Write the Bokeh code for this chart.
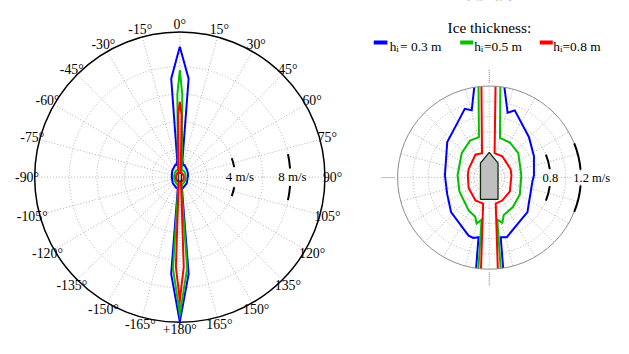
import numpy as np
from bokeh.plotting import figure
from bokeh.layouts import row
from bokeh.models import Range1d, Label
from bokeh.core.properties import value
from bokeh.embed import file_html
from bokeh.resources import INLINE

# ---- data: flow direction relative to the bow (deg, clockwise) and speed (m/s)
blue_dir = [0.0, 5.1, 8.7, 15.8, 20.8, 44.5, 64.4, 87.1, 95.1, 132.0, 163.6, 169.1, 174.8, 180.0,
            -174.9, -169.8, -165.1, -160.4, -132.0, -111.8, -87.0, -49.8, -29.3, -19.6, -14.6, -8.6, -5.0]
blue_speed = [9.43, 7.15, 1.26, 0.883, 0.942, 0.742, 0.649, 0.586, 0.567, 0.673, 0.813, 0.794, 7.04, 10.46,
              7.04, 0.792, 0.817, 0.807, 0.673, 0.592, 0.581, 0.72, 0.837, 0.955, 0.91, 1.264, 7.15]

green_dir = [0.0, 1.7, 15.1, 30.4, 49.9, 85.9, 118.8, 141.2, 158.8, 163.9, 169.2, 175.4, 180.0,
             -175.7, -169.7, -164.6, -160.1, -147.9, -114.8, -85.9, -48.4, -27.3, -14.3, -1.7]
green_speed = [7.74, 6.0, 0.539, 0.533, 0.497, 0.421, 0.457, 0.494, 0.526, 0.614, 0.56, 6.62, 9.9,
               6.62, 0.559, 0.622, 0.543, 0.508, 0.43, 0.416, 0.482, 0.546, 0.547, 6.0]

red_dir = [0.0, 1.65, 12.3, 31.3, 68.6, 84.1, 123.7, 150.5, 166.0, 177.5, 180.0,
           -177.5, -166.8, -149.0, -116.6, -83.9, -67.8, -31.0, -16.5, -1.65]
red_speed = [5.45, 4.5, 0.328, 0.328, 0.301, 0.292, 0.325, 0.345, 0.35, 6.51, 8.9,
             6.51, 0.349, 0.35, 0.302, 0.282, 0.292, 0.35, 0.334, 4.5]

series_colors = ["#0000ff", "#00c000", "#ff0000"]
legend_values = [" = 0.3 m", "=0.5 m", "=0.8 m"]

# ship outline (drawn in the same units as the speeds)
ship_x = [-0.115, 0.115, 0.115, 0.0, -0.115]
ship_y = [-0.285, -0.285, 0.19, 0.33, 0.19]

# axes furniture
angle_ticks = list(range(0, 181, 15)) + list(range(-165, 0, 15))
left_rings = [2, 4, 6, 8]
right_rings = [0.2, 0.4, 0.6, 0.8, 1.0]

FONT = "Liberation Serif"
GRID = "#b0b0b0"

# layout: a 629x354 design fitted into the 613x338 page area
REF_W, REF_H = 629.0, 354.0
TOT_W, TOT_H = 613, 338
KX, KY = TOT_W / REF_W, TOT_H / REF_H


def fs(px):
    return f"{px * KY:.1f}px"


def polar_xy(d, s):
    a = np.radians(np.r_[d, d[:1]])
    r = np.r_[s, s[:1]]
    return r * np.sin(a), r * np.cos(a)


curves = [(blue_dir, blue_speed), (green_dir, green_speed), (red_dir, red_speed)]
sp = np.radians(np.arange(0, 360, 15))

# ================= left: full polar plot =================
R1 = 10.5
s1 = KY * 152.0 / R1             # screen px per m/s
W1 = int(round(370 * KX))
cx1, cy1 = 184.0 * KX, 185.0 * KY
p1 = figure(width=W1, height=TOT_H,
            x_range=Range1d(-cx1 / s1, (W1 - cx1) / s1),
            y_range=Range1d(-(TOT_H - cy1) / s1, cy1 / s1), output_backend="svg",
            toolbar_location=None, min_border=0, x_axis_type=None, y_axis_type=None)
p1.outline_line_color = None
p1.grid.visible = False

p1.segment(x0=0, y0=0, x1=R1 * np.sin(sp), y1=R1 * np.cos(sp),
           line_color=GRID, line_dash="1 2", line_width=1)
p1.circle(x=0, y=0, radius=left_rings, fill_color=None, line_color=GRID,
          line_dash="1 2", line_width=1)
p1.circle(x=[0], y=[0], radius=[R1], fill_color=None, line_color="black", line_width=1.5)

for (d, s), c in zip(curves, series_colors):
    x, y = polar_xy(d, s)
    p1.line(x, y, line_color=c, line_width=2, line_join="miter")

p1.patch(ship_x, ship_y, fill_color="#c0c0c0", line_color="black", line_width=1)

p1.arc(x=0, y=0, radius=[4, 4, 8, 8],
       start_angle=np.radians([10.5, -20, 4.5, -12]).tolist(),
       end_angle=np.radians([20, -10.5, 12, -4.5]).tolist(),
       line_color="black", line_width=2)

L1 = 160.0 / (152.0 / R1)
ta = np.radians(angle_ticks)
p1.text(x=L1 * np.sin(ta), y=L1 * np.cos(ta),
        text=["+180°" if a == 180 else f"{a}°" for a in angle_ticks],
        text_align="center", text_baseline="middle",
        text_font=value(FONT), text_font_size=fs(14.5), text_color="black")

for xv, t in [(4.35, "4 m/s"), (8.15, "8 m/s")]:
    p1.add_layout(Label(x=xv, y=0, text=t, text_align="center", text_baseline="middle",
                        text_font=FONT, text_font_size=fs(13.5), text_color="black",
                        background_fill_color="white"))

# ================= right: zoomed polar plot =================
R2 = 1.2
s2 = KY * 80.0
W2 = TOT_W - W1
cx2, cy2 = 501.5 * KX - W1, 185.5 * KY
p2 = figure(width=W2, height=TOT_H,
            x_range=Range1d(-cx2 / s2, (W2 - cx2) / s2),
            y_range=Range1d(-(TOT_H - cy2) / s2, cy2 / s2), output_backend="svg",
            toolbar_location=None, min_border=0, x_axis_type=None, y_axis_type=None)
p2.outline_line_color = None
p2.grid.visible = False


def lx(X):  # design px -> right-plot x
    return [((v * KX - W1) - cx2) / s2 for v in X]


def ly(Y):  # design px -> right-plot y
    return [(cy2 - v * KY) / s2 for v in Y]


p2.segment(x0=0, y0=0, x1=R2 * np.sin(sp), y1=R2 * np.cos(sp),
           line_color=GRID, line_dash="1 2", line_width=1)
p2.circle(x=0, y=0, radius=right_rings, fill_color=None, line_color=GRID,
          line_dash="1 2", line_width=1)

for (d, s), c in zip(curves, series_colors):
    x, y = polar_xy(d, s)
    p2.line(x, y, line_color=c, line_width=2, line_join="miter")

# white mask outside the circle (clips the curves)
p2.annulus(x=[0], y=[0], inner_radius=[R2], outer_radius=[5], fill_color="white", line_color=None)
p2.circle(x=[0], y=[0], radius=[R2], fill_color=None, line_color="#8c8c8c", line_width=1)

p2.patch(ship_x, ship_y, fill_color="#bfbfbf", line_color="#0f2a0f", line_width=1.3)

tk = np.radians([0, 180, -90])
p2.segment(x0=1.24 * np.sin(tk), y0=1.24 * np.cos(tk), x1=1.42 * np.sin(tk), y1=1.42 * np.cos(tk),
           line_color="#777777", line_dash="1 1", line_width=1)

p2.arc(x=0, y=0, radius=[0.8, 0.8, 1.2, 1.2],
       start_angle=np.radians([8, -22, 5, -22]).tolist(),
       end_angle=np.radians([22, -8, 22, -5]).tolist(),
       line_color="black", line_width=2)

p2.add_layout(Label(x=0.8, y=0, text="0.8", text_align="center", text_baseline="middle",
                    text_font=FONT, text_font_size="12.5px", text_color="black",
                    background_fill_color="white"))
p2.add_layout(Label(x=1.10, y=0, text="1.2 m/s", text_align="left", text_baseline="middle",
                    text_font=FONT, text_font_size="12.5px", text_color="black",
                    background_fill_color="white"))

# legend (design-pixel positions)
p2.text(x=lx([501.7]), y=ly([28.5]), text=["Ice thickness:"], text_align="center",
        text_baseline="alphabetic", text_font=value(FONT), text_font_size=fs(16))
p2.segment(x0=lx([383, 471.7, 553.3]), y0=ly([44] * 3), x1=lx([397, 485, 566.7]), y1=ly([44] * 3),
           line_color=series_colors, line_width=4)
p2.text(x=lx([399.3, 486, 567.3]), y=ly([48] * 3), text=["h"] * 3, text_align="left",
        text_baseline="alphabetic", text_font=value(FONT), text_font_size=fs(14))
p2.text(x=lx([406, 492.7, 574]), y=ly([51] * 3), text=["i"] * 3, text_align="left",
        text_baseline="alphabetic", text_font=value(FONT), text_font_size=fs(9.5))
p2.text(x=lx([410, 496, 576.7]), y=ly([48] * 3), text=legend_values, text_align="left",
        text_baseline="alphabetic", text_font=value(FONT), text_font_size=fs(14))

layout = row(p1, p2)
open("out.html", "w").write(file_html(layout, INLINE))
